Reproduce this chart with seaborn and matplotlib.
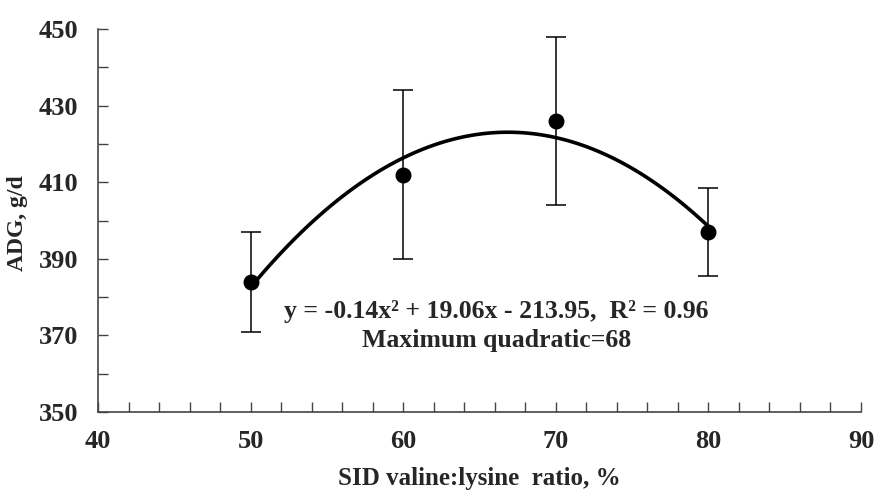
import numpy as np
import pandas as pd
import matplotlib
matplotlib.use("Agg")
import matplotlib.pyplot as plt
import seaborn as sns
from matplotlib.ticker import MultipleLocator

# Dados
ratio = [50, 60, 70, 80]
adg = [384, 412, 426, 397]
adg_err = [13, 22, 22, 11.5]
x_ticks = [40, 50, 60, 70, 80, 90]
y_ticks = [350, 370, 390, 410, 430, 450]
equation = "y = -0.14x² + 19.06x - 213.95,  R² = 0.96"
max_label = "Maximum quadratic=68"

df = pd.DataFrame({"ratio": ratio, "adg": adg, "err": adg_err})

sns.set_style("ticks")
plt.rcParams['font.family'] = ['Liberation Serif', 'DejaVu Serif']
plt.rcParams['font.weight'] = 'bold'

fig = plt.figure(figsize=(8.84, 5.03), dpi=100)
ax = fig.add_axes([0.1109, 0.1809, 0.8631, 0.7614])

# Barras de erro
ax.errorbar(df["ratio"], df["adg"], yerr=df["err"], fmt="none",
            ecolor="black", elinewidth=1.1, capsize=7, capthick=1.1, zorder=2)

# Curva quadrática + pontos
sns.regplot(data=df, x="ratio", y="adg", order=2, ci=None, ax=ax,
            scatter_kws={"s": 110, "color": "black", "zorder": 3, "alpha": 1},
            line_kws={"color": "black", "lw": 2.6, "zorder": 3})

ax.set_xlim(40, 90)
ax.set_ylim(350, 450)
ax.set_xticks(x_ticks)
ax.set_yticks(y_ticks)
ax.xaxis.set_minor_locator(MultipleLocator(2))
ax.yaxis.set_minor_locator(MultipleLocator(10))
ax.tick_params(axis="both", which="both", direction="in", color="#444444",
               width=1, length=7, labelsize=19)
ax.tick_params(axis="x", pad=13)
ax.tick_params(axis="y", pad=14)
for lab in ax.get_xticklabels() + ax.get_yticklabels():
    lab.set_fontweight("bold")

sns.despine(ax=ax)
for s in ["left", "bottom"]:
    ax.spines[s].set_color("#444444")
    ax.spines[s].set_linewidth(1.2)

ax.set_xlabel("SID valine:lysine  ratio, %", fontsize=18, fontweight="bold", labelpad=10)
ax.set_ylabel("ADG, g/d", fontsize=17, fontweight="bold")
ax.yaxis.set_label_coords(-0.092, 0.493)

ax.text(66.1, 376.3, equation, ha="center", va="center", fontsize=18.5, fontweight="bold")
ax.text(66.1, 368.8, max_label, ha="center", va="center", fontsize=18.5, fontweight="bold")

fig.savefig("out.png", dpi=100)
